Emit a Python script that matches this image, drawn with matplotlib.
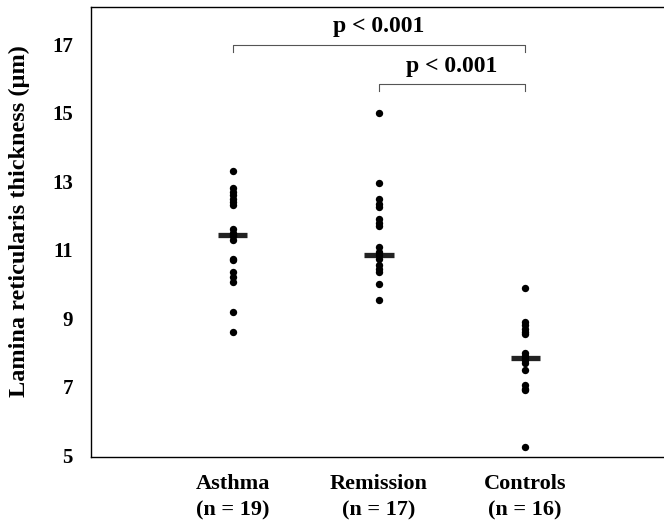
import matplotlib
matplotlib.use("Agg")
import matplotlib.pyplot as plt

# lamina reticularis thickness per subject (um)
groups = ["Asthma\n(n = 19)", "Remission\n(n = 17)", "Controls\n(n = 16)"]
asthma = [13.3, 12.8, 12.7, 12.6, 12.5, 12.4, 12.3, 11.6, 11.5, 11.45, 11.4,
          11.3, 10.75, 10.7, 10.35, 10.2, 10.05, 9.2, 8.6]
remission = [15.0, 12.95, 12.5, 12.35, 12.25, 11.9, 11.8, 11.7, 11.1, 10.95,
             10.85, 10.75, 10.55, 10.45, 10.35, 10.0, 9.55]
controls = [9.9, 8.9, 8.8, 8.7, 8.6, 8.55, 8.0, 7.9, 7.85, 7.8, 7.7, 7.5,
            7.05, 6.95, 6.9, 5.25]
medians = [11.45, 10.85, 7.83]
yticks = [5, 7, 9, 11, 13, 15, 17]

# significance brackets: (left group, right group, bracket height, label)
brackets = [(0, 2, 17.0, "p < 0.001"), (1, 2, 15.85, "p < 0.001")]

plt.rcParams["font.family"] = ["Liberation Serif", "DejaVu Serif"]
plt.rcParams["font.weight"] = "bold"

fig = plt.figure(figsize=(6.64, 5.26), dpi=100)
ax = fig.add_axes([0.137, 0.131, 0.863, 0.856])

for i, vals in enumerate([asthma, remission, controls]):
    ax.plot([i] * len(vals), vals, "o", color="black", markersize=5.3,
            markeredgewidth=0, zorder=3)
    ax.plot([i - 0.1, i + 0.1], [medians[i], medians[i]], color="#222222",
            linewidth=3.8, solid_capstyle="butt", zorder=2)

for x1, x2, h, label in brackets:
    ax.plot([x1, x1, x2, x2], [h - 0.22, h, h, h - 0.22], color="#555555",
            linewidth=0.8)
    ax.text((x1 + x2) / 2, h + 0.52, label, ha="center", va="center",
            fontsize=17, fontweight="bold")

ax.set_xlim(-0.97, 2.95)
ax.set_ylim(4.95, 18.1)
ax.set_yticks(yticks)
ax.set_yticklabels([str(t) for t in yticks], fontsize=15, fontweight="bold")
ax.set_xticks(range(len(groups)))
ax.set_xticklabels(groups, fontsize=16, fontweight="bold", linespacing=1.45)
ax.tick_params(axis="y", length=0, pad=13)
ax.tick_params(axis="x", length=0, pad=12)
ax.spines["right"].set_visible(False)
for side in ["left", "top", "bottom"]:
    ax.spines[side].set_linewidth(1.0)
ax.set_ylabel("Lamina reticularis thickness (\u00b5m)", fontsize=17.5,
              fontweight="bold")
ax.yaxis.set_label_coords(-0.106, 0.525)

fig.savefig("out.png", dpi=100)
